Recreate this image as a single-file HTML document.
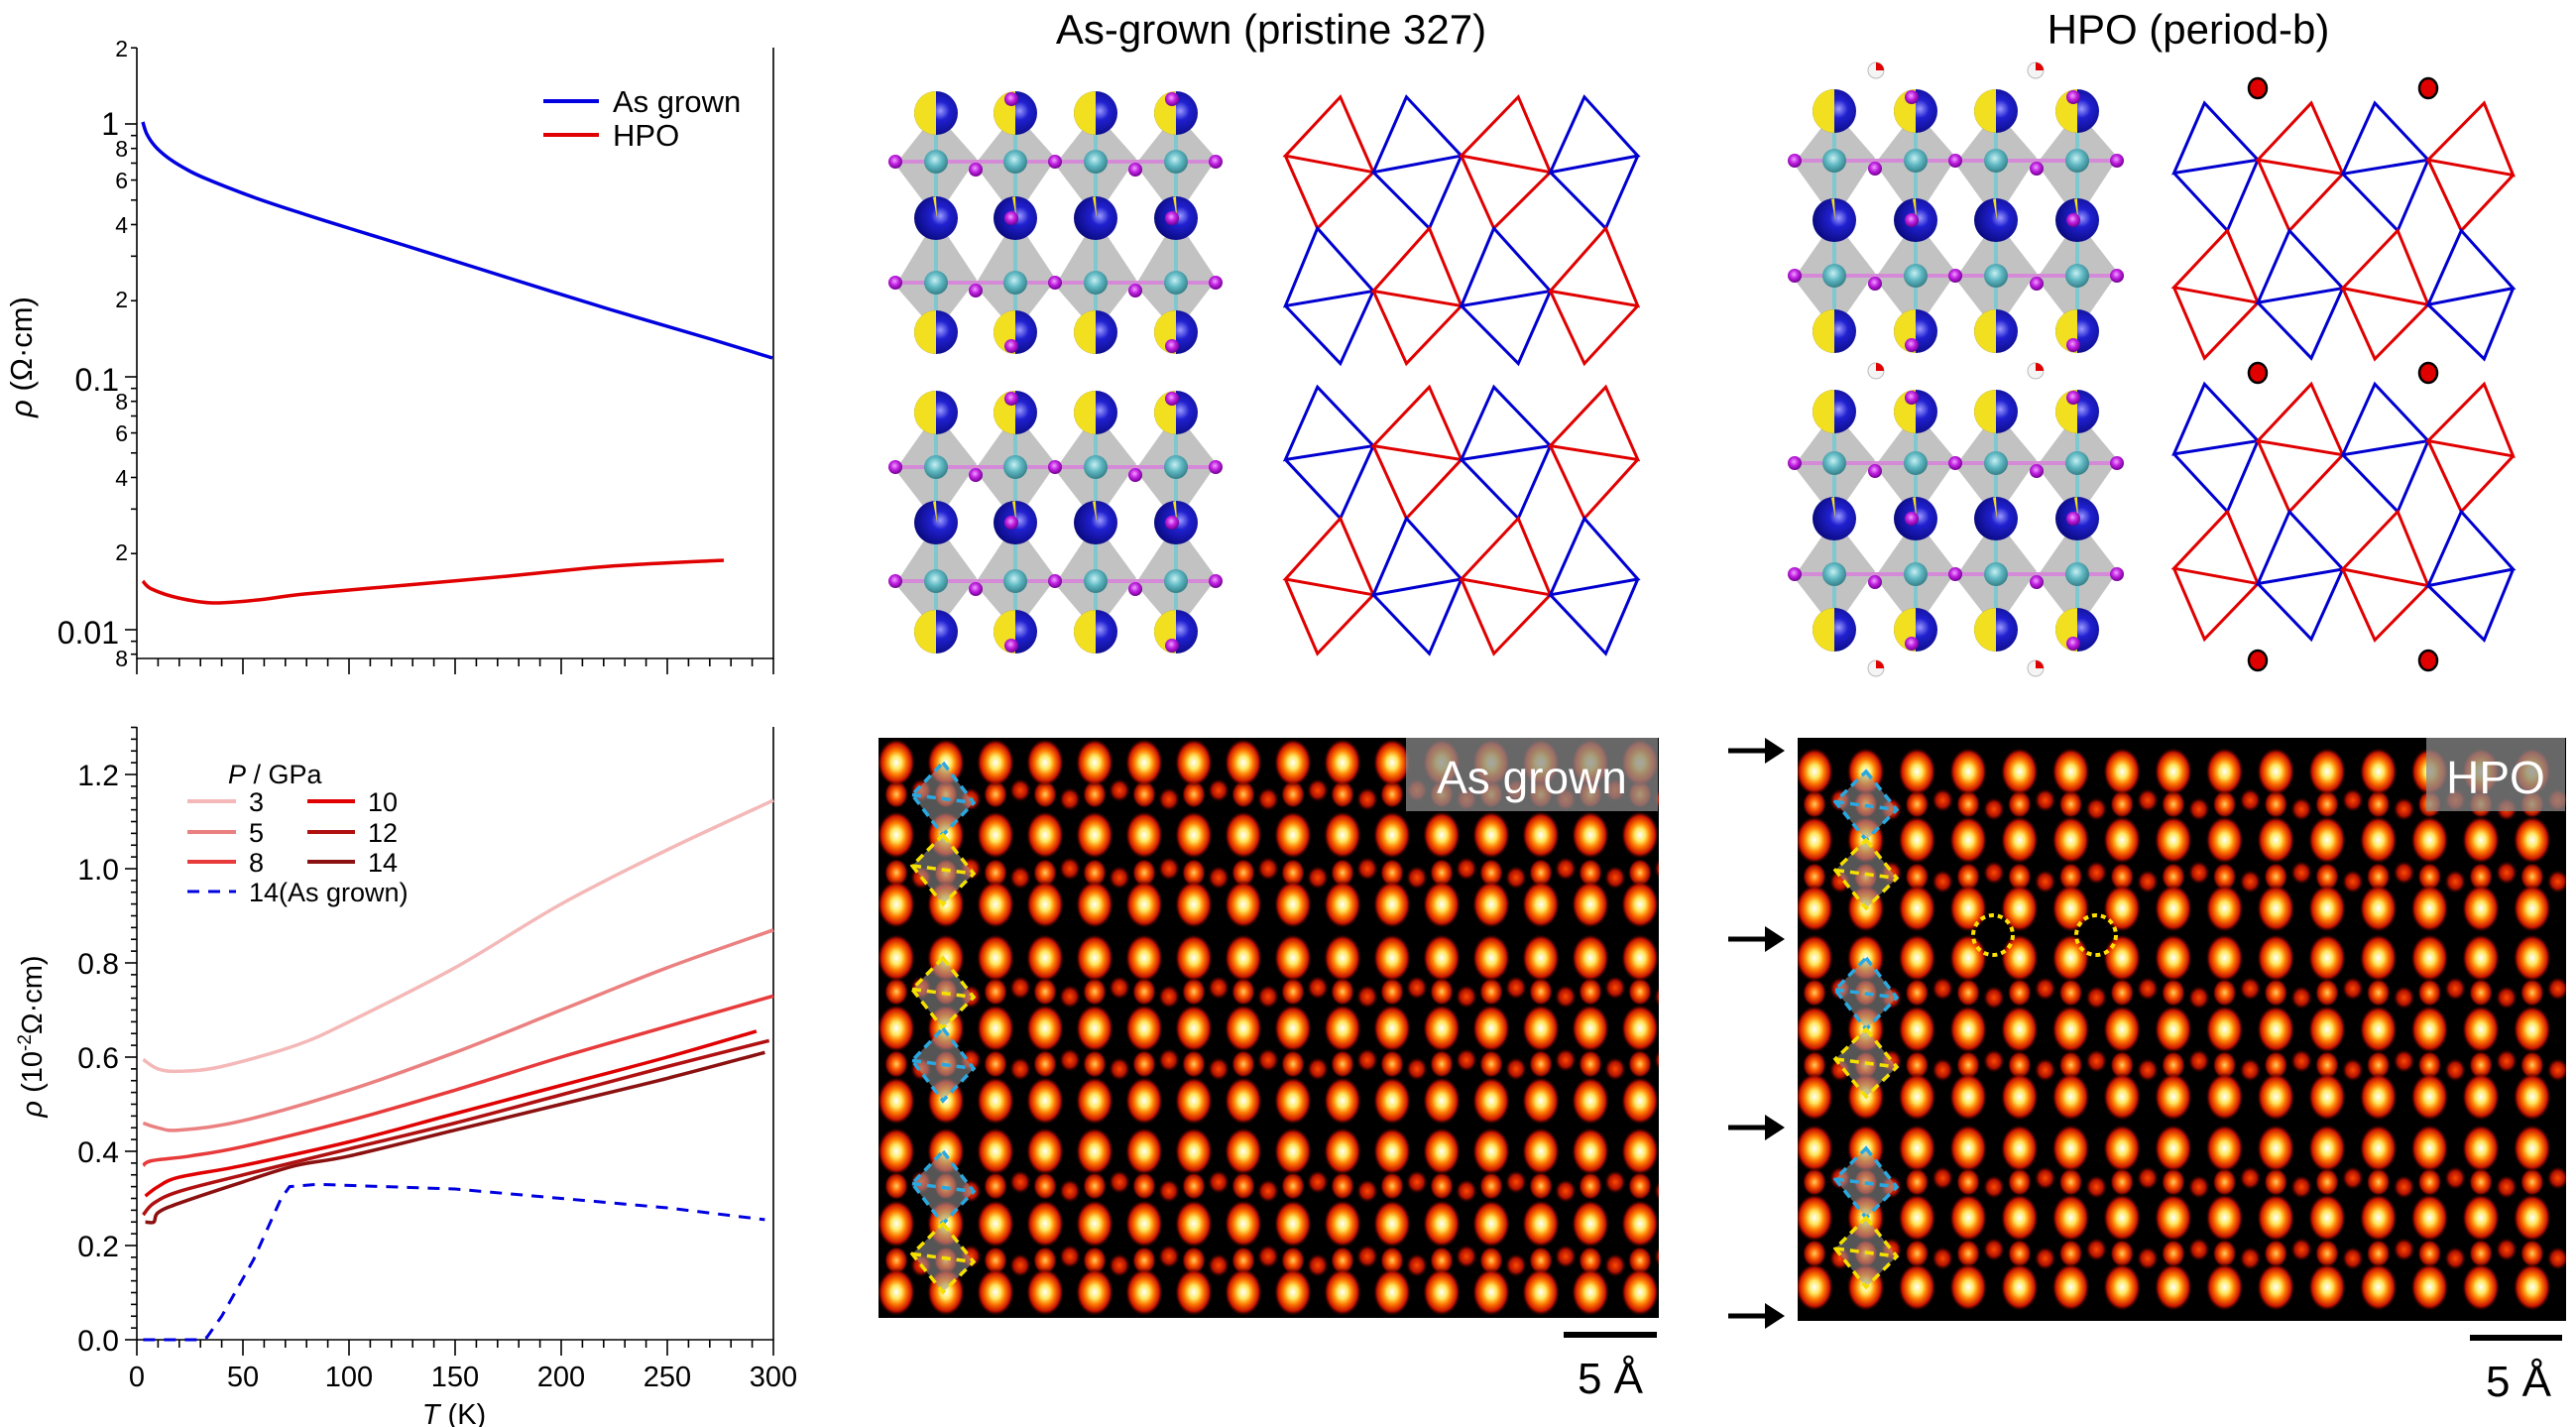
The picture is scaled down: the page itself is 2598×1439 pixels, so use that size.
<!DOCTYPE html>
<html><head><meta charset="utf-8"><style>
html,body{margin:0;padding:0;background:#fff;}
svg{display:block;font-family:"Liberation Sans",Arial,sans-serif;}
</style></head><body>
<svg id="s" width="2598" height="1439" viewBox="0 0 2598 1439" xmlns="http://www.w3.org/2000/svg">
<defs>
<radialGradient id="gb" cx="50%" cy="50%" r="50%">
<stop offset="0" stop-color="#ffffff"/><stop offset="0.28" stop-color="#ffe860"/><stop offset="0.52" stop-color="#ff7a00"/><stop offset="0.8" stop-color="#c81400"/><stop offset="1" stop-color="#200000" stop-opacity="0"/>
</radialGradient>
<radialGradient id="gs" cx="50%" cy="50%" r="50%">
<stop offset="0" stop-color="#ffd060"/><stop offset="0.4" stop-color="#ff5a00"/><stop offset="0.8" stop-color="#a00c00"/><stop offset="1" stop-color="#200000" stop-opacity="0"/>
</radialGradient>
<radialGradient id="gr" cx="50%" cy="50%" r="50%">
<stop offset="0" stop-color="#ff4a00"/><stop offset="0.6" stop-color="#b01000"/><stop offset="1" stop-color="#200000" stop-opacity="0"/>
</radialGradient>
<radialGradient id="gblue" cx="60%" cy="45%" r="60%">
<stop offset="0" stop-color="#9a9aff"/><stop offset="0.35" stop-color="#2020d0"/><stop offset="1" stop-color="#0a0a80"/>
</radialGradient>
<radialGradient id="gcy" cx="45%" cy="40%" r="60%">
<stop offset="0" stop-color="#c8f0f4"/><stop offset="0.5" stop-color="#5fb8c2"/><stop offset="1" stop-color="#357f88"/>
</radialGradient>
<radialGradient id="gmg" cx="45%" cy="40%" r="60%">
<stop offset="0" stop-color="#f0a0ff"/><stop offset="0.5" stop-color="#c020e0"/><stop offset="1" stop-color="#700090"/>
</radialGradient>
</defs>

<!-- ===== Top-left plot ===== -->
<g id="p1" stroke="#000" stroke-width="1.6" fill="none"></g>
<g font-size="32" fill="#000" text-anchor="end">
<text x="120" y="136">1</text>
<text x="120" y="394">0.1</text>
<text x="120" y="649">0.01</text>
</g>
<g font-size="23" fill="#000" text-anchor="end">
<text x="129" y="57">2</text>
<text x="129" y="158">8</text>
<text x="129" y="190">6</text>
<text x="129" y="235">4</text>
<text x="129" y="310">2</text>
<text x="129" y="413">8</text>
<text x="129" y="445">6</text>
<text x="129" y="490">4</text>
<text x="129" y="565">2</text>
<text x="129" y="672">8</text>
</g>
<text transform="translate(32,360) rotate(-90)" font-size="31" text-anchor="middle"><tspan font-style="italic">ρ</tspan> (Ω·cm)</text>
<line x1="548" y1="102" x2="604" y2="102" stroke="#0000e0" stroke-width="4"/>
<line x1="548" y1="136" x2="604" y2="136" stroke="#e00000" stroke-width="4"/>
<text x="618" y="113" font-size="31">As grown</text>
<text x="618" y="147" font-size="31">HPO</text>

<!-- ===== Bottom-left plot ===== -->
<g id="p2" stroke="#000" stroke-width="1.6" fill="none"></g>
<g font-size="30" fill="#000" text-anchor="end">
<text x="120" y="1362">0.0</text>
<text x="120" y="1267">0.2</text>
<text x="120" y="1172">0.4</text>
<text x="120" y="1077">0.6</text>
<text x="120" y="982">0.8</text>
<text x="120" y="887">1.0</text>
<text x="120" y="792">1.2</text>
</g>
<g font-size="29" fill="#000" text-anchor="middle">
<text x="138" y="1398">0</text><text x="245" y="1398">50</text><text x="352" y="1398">100</text>
<text x="459" y="1398">150</text><text x="566" y="1398">200</text><text x="673" y="1398">250</text><text x="780" y="1398">300</text>
</g>
<text x="458" y="1436" font-size="29" text-anchor="middle"><tspan font-style="italic">T</tspan> (K)</text>
<text transform="translate(42,1045) rotate(-90)" font-size="29" text-anchor="middle"><tspan font-style="italic">ρ</tspan> (10<tspan dy="-11" font-size="19">-2</tspan><tspan dy="11">Ω·cm)</tspan></text>
<g font-size="27" fill="#000">
<text x="230" y="790"><tspan font-style="italic">P</tspan> / GPa</text>
<text x="251" y="818">3</text><text x="251" y="849">5</text><text x="251" y="879">8</text>
<text x="371" y="818">10</text><text x="371" y="849">12</text><text x="371" y="879">14</text>
<text x="251" y="909">14(As grown)</text>
</g>
<g stroke-width="4">
<line x1="189" y1="808" x2="238" y2="808" stroke="#f4b8b8"/>
<line x1="189" y1="839" x2="238" y2="839" stroke="#eb8080"/>
<line x1="189" y1="869" x2="238" y2="869" stroke="#e83a3a"/>
<line x1="310" y1="808" x2="358" y2="808" stroke="#e00000"/>
<line x1="310" y1="839" x2="358" y2="839" stroke="#b01010"/>
<line x1="310" y1="869" x2="358" y2="869" stroke="#8b1010"/>
<line x1="189" y1="899" x2="238" y2="899" stroke="#0000e0" stroke-width="3" stroke-dasharray="12,9"/>
</g>

<!-- ===== Titles ===== -->
<text x="1282" y="44" font-size="42" text-anchor="middle">As-grown (pristine 327)</text>
<text x="2207" y="44" font-size="42" text-anchor="middle">HPO (period-b)</text>

<g id="struct"></g>
<g id="wire"></g>

<!-- ===== STEM images ===== -->
<rect x="886" y="744" width="787" height="585" fill="#000"/>
<g id="stem1"></g>
<rect x="1813" y="744" width="775" height="588" fill="#000"/>
<g id="stem2"></g>
<g id="dia"></g>
<rect x="1418" y="744" width="254" height="74" fill="#8a8a8a" fill-opacity="0.75"/>
<text x="1545" y="800" font-size="46" fill="#fff" text-anchor="middle">As grown</text>
<rect x="2447" y="744" width="140" height="74" fill="#8a8a8a" fill-opacity="0.75"/>
<text x="2517" y="800" font-size="46" fill="#fff" text-anchor="middle">HPO</text>
<circle cx="2010" cy="943" r="20" fill="none" stroke="#ffe000" stroke-width="4" stroke-dasharray="5,4"/>
<circle cx="2114" cy="943" r="20" fill="none" stroke="#ffe000" stroke-width="4" stroke-dasharray="5,4"/>
<rect x="1577" y="1343" width="94" height="6" fill="#000"/>
<text x="1624" y="1405" font-size="44" text-anchor="middle">5 Å</text>
<rect x="2491" y="1346" width="93" height="6" fill="#000"/>
<text x="2540" y="1408" font-size="44" text-anchor="middle">5 Å</text>
<g id="arrows"></g>
</svg>
<script>
const NS="http://www.w3.org/2000/svg";
function el(p,tag,a){const e=document.createElementNS(NS,tag);for(const k in a)e.setAttribute(k,a[k]);p.appendChild(e);return e;}
function smooth(pts){let d="M"+pts[0][0].toFixed(1)+","+pts[0][1].toFixed(1);
for(let i=0;i<pts.length-1;i++){const p0=pts[Math.max(i-1,0)],p1=pts[i],p2=pts[i+1],p3=pts[Math.min(i+2,pts.length-1)];
const c1=[p1[0]+(p2[0]-p0[0])/6,p1[1]+(p2[1]-p0[1])/6],c2=[p2[0]-(p3[0]-p1[0])/6,p2[1]-(p3[1]-p1[1])/6];
d+=" C"+c1.map(v=>v.toFixed(1))+" "+c2.map(v=>v.toFixed(1))+" "+p2.map(v=>v.toFixed(1));}return d;}
// Top plot
const p1=document.getElementById('p1');
const X=t=>138+t*642/300;
const YL=v=>125-Math.log10(v)*255;
el(p1,'path',{d:"M138,48 V664 H780 V48"});
for(let dec of [0.001,0.01,0.1,1]){for(let m=1;m<=9;m++){const v=dec*m;if(v<0.008||v>2.001)continue;const y=YL(v);const L=(m==1)?12:6;el(p1,'line',{x1:138-L,y1:y,x2:138,y2:y});}}
for(let t=0;t<=300;t+=10){const L=(t%50==0)?16:8;el(p1,'line',{x1:X(t),y1:664,x2:X(t),y2:664+L});}
el(p1,'path',{d:smooth([[144,123],[148,135],[156,147],[168,158],[185,169],[205,179],[256,199],[307,216],[358,232],[410,248],[512,280],[615,312],[717,342],[779,361]]),stroke:"#0000e0","stroke-width":3.5});
el(p1,'path',{d:smooth([[144,586],[153,594],[180,603],[215,608],[260,605],[307,599],[410,590],[512,581],[615,571],[730,565]]),stroke:"#e00000","stroke-width":3.5});
// Bottom plot
const p2=document.getElementById('p2');
const Y2=v=>1351-v*475;
el(p2,'path',{d:"M138,733 V1351 H780 V733"});
for(let i=0;i<=52;i++){const v=i*0.025;const y=Y2(v);const L=(i%8==0)?12:6;el(p2,'line',{x1:138-L,y1:y,x2:138,y2:y});}
for(let t=0;t<=300;t+=10){const L=(t%50==0)?16:8;el(p2,'line',{x1:X(t),y1:1351,x2:X(t),y2:1351+L});}
const series=[
["#f4b8b8",[[3,0.595],[10,0.575],[20,0.57],[40,0.58],[75,0.625],[100,0.675],[150,0.79],[200,0.925],[250,1.04],[300,1.145]]],
["#eb8080",[[3,0.46],[10,0.45],[20,0.445],[50,0.465],[100,0.53],[150,0.61],[200,0.7],[250,0.79],[300,0.87]]],
["#e83a3a",[[3,0.37],[7,0.38],[25,0.39],[50,0.41],[100,0.465],[150,0.53],[200,0.6],[250,0.665],[300,0.73]]],
["#e00000",[[4,0.305],[10,0.325],[20,0.345],[50,0.37],[100,0.42],[150,0.48],[200,0.54],[250,0.6],[292,0.655]]],
["#b01010",[[3,0.265],[8,0.29],[20,0.315],[50,0.35],[100,0.405],[150,0.46],[200,0.52],[250,0.58],[298,0.635]]],
["#8b1010",[[4,0.25],[8,0.25],[10,0.27],[20,0.29],[50,0.335],[75,0.37],[100,0.39],[150,0.445],[200,0.5],[250,0.555],[296,0.61]]]];
for(const [c,d] of series)el(p2,'path',{d:smooth(d.map(p=>[X(p[0]),Y2(p[1])])),stroke:c,"stroke-width":3.5});
el(p2,'path',{d:"M"+[[3,0],[30,0],[33,0.005],[40,0.05],[55,0.17],[68,0.3],[72,0.325],[85,0.33],[150,0.32],[200,0.3],[250,0.28],[296,0.255]].map(p=>X(p[0]).toFixed(1)+","+Y2(p[1]).toFixed(1)).join(" L"),stroke:"#0000e0","stroke-width":3,"stroke-dasharray":"12,9"});
// Structures
const S=document.getElementById('struct');
function block(cols,mx,big,ni){
 const g=el(S,'g',{});
 for(let j=0;j<2;j++){const yt=big[j],yb=big[j+1],yn=ni[j];
  cols.forEach((c,i)=>{el(g,'polygon',{points:`${c},${yt} ${c+41},${yn-3} ${c},${yb} ${c-41},${yn+3}`,fill:"#9c9c9c","fill-opacity":0.62});});}
 for(let j=0;j<2;j++){const yn=ni[j];
  el(g,'line',{x1:mx[0],y1:yn,x2:mx[4],y2:yn,stroke:"#d58ad8","stroke-width":4});
  cols.forEach(c=>{el(g,'line',{x1:c,y1:big[j],x2:c,y2:big[j+1],stroke:"#7fc8d0","stroke-width":4});});}
 big.forEach((y,r)=>{cols.forEach((c,i)=>{
  el(g,'circle',{cx:c,cy:y,r:22,fill:"url(#gblue)"});
  if(r!=1)el(g,'path',{d:`M${c},${y-22} A22,22 0 0 0 ${c},${y+22} Z`,fill:"#f2e020"});
  else el(g,'path',{d:`M${c},${y-22} L${c-3},${y-21} L${c+1},${y} Z`,fill:"#f2e020"});
 });});
 ni.forEach((y,j)=>{cols.forEach(c=>el(g,'circle',{cx:c,cy:y,r:12,fill:"url(#gcy)"}));
  mx.forEach((x,i)=>el(g,'circle',{cx:x,cy:y+((i%2)?8:0),r:7,fill:"url(#gmg)"}));});
 [[1,0],[3,0],[1,1],[3,1],[1,2],[3,2]].forEach(([i,r])=>{const c=cols[i];const y=big[r]+(r==0?-14:(r==2?14:0));el(g,'circle',{cx:c-4,cy:y,r:7,fill:"url(#gmg)"});});
}
const lc=[944,1024,1105,1186],lm=[903,984,1064,1145,1226];
block(lc,lm,[114,220,335],[163,285]);
block(lc,lm,[416,527,637],[471,586]);
const hc=[1850,1932,2013,2095],hm=[1810,1891,1972,2054,2135];
block(hc,hm,[112,222,334],[162,278]);
block(hc,hm,[415,523,635],[467,579]);
[[1892,71],[2053,71],[1892,374],[2053,374],[1892,674],[2053,674]].forEach(([x,y])=>{el(S,'circle',{cx:x,cy:y,r:8,fill:"#f4f4f4",stroke:"#bbb","stroke-width":1});el(S,'path',{d:`M${x},${y} V${y-8} A8,8 0 0 1 ${x+8},${y} Z`,fill:"#e00000"});});
// Wire diagrams
const W=document.getElementById('wire');
function dia(g,q,col){const [t,l,r,b]=q;el(g,'path',{d:`M${t} L${l} L${r} Z M${l} L${b} L${r}`,fill:"none",stroke:col,"stroke-width":3,"vector-effect":"non-scaling-stroke","stroke-linejoin":"miter"});}
const R="#e00000",B="#0000d0";
const gL=el(W,'g',{transform:"translate(880,80) scale(0.5128,0.3953)"});
[[R,[[920,45],[812,195],[985,237],[875,380]]],[B,[[1050,45],[985,237],[1158,195],[1095,380]]],[R,[[1270,45],[1158,195],[1333,237],[1222,380]]],[B,[[1400,45],[1333,237],[1505,195],[1442,380]]],
[B,[[875,380],[812,578],[985,540],[920,725]]],[R,[[1095,380],[985,540],[1158,578],[1050,725]]],[B,[[1222,380],[1158,578],[1333,540],[1270,725]]],[R,[[1442,380],[1333,540],[1505,578],[1400,725]]],
[B,[[875,785],[812,970],[985,935],[920,1120]]],[R,[[1095,785],[985,935],[1158,970],[1050,1120]]],[B,[[1222,785],[1158,970],[1333,935],[1270,1120]]],[R,[[1442,785],[1333,935],[1505,970],[1400,1120]]],
[R,[[920,1120],[812,1275],[985,1315],[875,1465]]],[B,[[1050,1120],[985,1315],[1158,1275],[1095,1465]]],[R,[[1270,1120],[1158,1275],[1333,1315],[1222,1465]]],[B,[[1400,1120],[1333,1315],[1505,1275],[1442,1465]]]
].forEach(([c,q])=>dia(gL,q,c));
const gH=el(W,'g',{transform:"translate(1790,50) scale(0.5128,0.4149)"});
const hp=[[B,[[845,130],[785,300],[950,268],[890,440]]],[R,[[1055,130],[950,268],[1117,302],[1012,440]]],[B,[[1180,130],[1117,302],[1285,268],[1225,440]]],[R,[[1395,130],[1285,268],[1452,305],[1350,440]]],
[R,[[890,440],[785,578],[950,615],[845,750]]],[B,[[1012,440],[950,615],[1117,580],[1055,750]]],[R,[[1225,440],[1117,580],[1285,620],[1180,752]]],[B,[[1350,440],[1285,620],[1452,580],[1395,752]]]];
[0,683].forEach(dy=>hp.forEach(([c,q])=>dia(gH,q.map(p=>[p[0],p[1]+dy]),c)));
[[2277,89],[2449,89],[2277,376],[2449,376],[2277,666],[2449,666]].forEach(([x,y])=>el(W,'ellipse',{cx:x,cy:y,rx:9,ry:10,fill:"#e00000",stroke:"#000","stroke-width":2.5}));
// STEM
function stem(id,cols,bright,small,step,x0,x1,y0,y1){
 const g=document.getElementById(id);
 const cl=el(g,'clipPath',{id:id+"c"});el(cl,'rect',{x:x0,y:y0,width:x1-x0,height:y1-y0});
 const h=el(g,'g',{"clip-path":`url(#${id}c)`});
 small.forEach((y,j)=>{cols.forEach((c,i)=>{el(h,'ellipse',{cx:c,cy:y,rx:12,ry:14,fill:"url(#gs)"});
   el(h,'ellipse',{cx:c+step/2,cy:y+((i+j)%2?5:-4),rx:11,ry:12,fill:"url(#gr)"});});});
 bright.forEach(y=>cols.forEach(c=>el(h,'ellipse',{cx:c,cy:y,rx:19,ry:24,fill:"url(#gb)"})));
}
const c1=[];for(let i=0;i<16;i++)c1.push(904+i*50);
stem('stem1',c1,[769,842,912,966,1037,1110,1161,1234,1303],[801,880,1000,1073,1196,1271],50,886,1673,744,1329);
const c2=[];for(let i=0;i<15;i++)c2.push(1830+i*51.7);
stem('stem2',c2,[778,847,916,966,1038,1106,1158,1228,1298],[811,884,1001,1074,1192,1264],51.7,1813,2588,744,1332);
const D=document.getElementById('dia');
function sd(x,yt,yb,col){const ym=(yt+yb)/2;const p=`${x},${yt} ${x+31},${ym+4} ${x},${yb} ${x-31},${ym-4}`;
 el(D,'polygon',{points:p,fill:"#9a9a9a","fill-opacity":0.55,stroke:col,"stroke-width":3.5,"stroke-dasharray":"9,6"});
 el(D,'line',{x1:x-31,y1:ym-4,x2:x+31,y2:ym+4,stroke:col,"stroke-width":3.5,"stroke-dasharray":"9,6"});}
const bl="#2aa8e0",yl="#f5e000";
sd(951,769,842,bl);sd(951,842,912,yl);sd(951,966,1037,yl);sd(951,1037,1110,bl);sd(951,1161,1234,bl);sd(951,1234,1303,yl);
sd(1882,778,847,bl);sd(1882,847,916,yl);sd(1882,966,1038,bl);sd(1882,1038,1106,yl);sd(1882,1158,1228,bl);sd(1882,1228,1298,yl);
const A=document.getElementById('arrows');
[757,947,1137,1327].forEach(y=>{el(A,'line',{x1:1743,y1:y,x2:1785,y2:y,stroke:"#000","stroke-width":5});el(A,'polygon',{points:`1780,${y-13} 1800,${y} 1780,${y+13}`,fill:"#000"});});
</script>
</body></html>
